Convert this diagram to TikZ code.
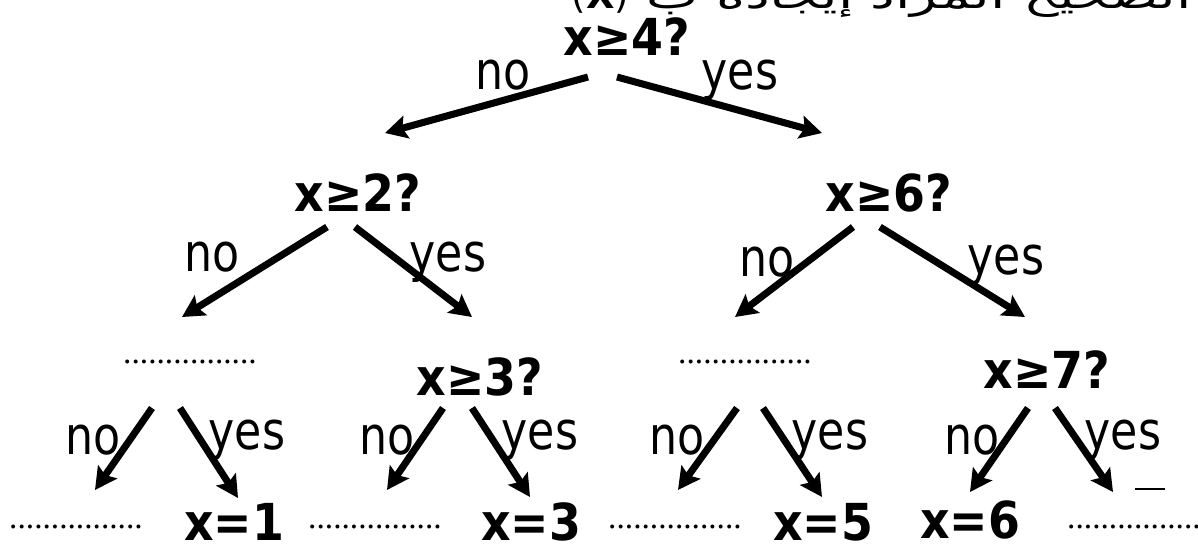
\documentclass[tikz,border=0pt]{standalone}
\usepackage{fontspec}
\setmainfont{DejaVu Sans}
\newfontfamily\askfont[FakeStretch=0.9]{DejaVu Sans}
\newfontfamily\ansfont[FakeStretch=0.84]{DejaVu Sans}
\newfontfamily\dotfont{Liberation Serif}
\newfontfamily\arabicfont[Script=Arabic, FakeStretch=1.5]{DejaVu Sans}
\TeXXeTstate=1
\usetikzlibrary{arrows.meta}
\tikzset{ask/.style = {font={\askfont\bfseries\fontsize{29}{29}\selectfont}, inner sep=0pt},
         ans/.style = {font={\ansfont\fontsize{30}{30}\selectfont}, inner sep=0pt},
         blank/.style = {font={\dotfont\fontsize{19}{19}\selectfont}, inner sep=0pt},
         arr/.style = {line width=4pt,
                       -{Stealth[length=0.44cm, width=0.46cm, inset=0.08cm]}}}

\begin{document}
\begin{tikzpicture}[x=0.02cm, y=-0.02cm]
    \useasboundingbox (0, 0) rectangle (1198, 545);
    \node [anchor=base east] (title) at (1198, 8)
      {\arabicfont\fontsize{21}{21}\selectfont\beginR الصحيح المراد إيجاده ب \beginL{\rmfamily (\textbf{X})}\endL\endR};
    % questions
    \node [ask] (q4) at (627, 37) {x≥4?};
    \node [ask] (q2) at (358, 193) {x≥2?};
    \node [ask] (q6) at (889, 193) {x≥6?};
    \node [ask] (q3) at (480, 377) {x≥3?};
    \node [ask] (q7) at (1047, 370) {x≥7?};
    \node [blank] (b1) at (190, 362) {................};
    \node [blank] (b2) at (745, 362) {................};
    % leaves
    \node [blank] (l0) at (76, 527) {................};
    \node [ask] (l1) at (234, 522) {x=1};
    \node [blank] (l2) at (375, 527) {................};
    \node [ask] (l3) at (531, 522) {x=3};
    \node [blank] (l4) at (675, 527) {................};
    \node [ask] (l5) at (823, 522) {x=5};
    \node [ask] (l6) at (970, 520) {x=6};
    \node [blank] (l7) at (1134, 527) {................};
    % arrow ends
    \coordinate (q4no) at (588, 77);   \coordinate (q4yes) at (617, 77);
    \coordinate (q2no) at (327, 227);  \coordinate (q2yes) at (355, 227);
    \coordinate (q6no) at (853, 227);  \coordinate (q6yes) at (880, 227);
    \coordinate (b1no) at (152, 408);  \coordinate (b1yes) at (180, 408);
    \coordinate (q3no) at (443, 408);  \coordinate (q3yes) at (472, 408);
    \coordinate (b2no) at (737, 408);  \coordinate (b2yes) at (763, 408);
    \coordinate (q7no) at (1028, 408); \coordinate (q7yes) at (1055, 408);
    \coordinate (t2) at (385, 133);    \coordinate (t6) at (822, 133);
    \coordinate (tb1) at (182, 317);   \coordinate (t3) at (472, 317);
    \coordinate (tb2) at (735, 317);   \coordinate (t7) at (1025, 317);
    \coordinate (tl0) at (95, 490);    \coordinate (tl1) at (238, 498);
    \coordinate (tl2) at (387, 490);   \coordinate (tl3) at (530, 497);
    \coordinate (tl4) at (678, 490);   \coordinate (tl5) at (822, 497);
    \coordinate (tl6) at (970, 492);   \coordinate (tl7) at (1113, 492);
    \draw [arr] (q4no) -- (t2);   \draw [arr] (q4yes) -- (t6);
    \draw [arr] (q2no) -- (tb1);  \draw [arr] (q2yes) -- (t3);
    \draw [arr] (q6no) -- (tb2);  \draw [arr] (q6yes) -- (t7);
    \draw [arr] (b1no) -- (tl0);  \draw [arr] (b1yes) -- (tl1);
    \draw [arr] (q3no) -- (tl2);  \draw [arr] (q3yes) -- (tl3);
    \draw [arr] (b2no) -- (tl4);  \draw [arr] (b2yes) -- (tl5);
    \draw [arr] (q7no) -- (tl6);  \draw [arr] (q7yes) -- (tl7);
    % labels
    \node [ans] (n4) at (503, 75) {no};   \node [ans] (y4) at (740, 80) {yes};
    \node [ans] (n2) at (212, 257) {no};  \node [ans] (y2) at (448, 262) {yes};
    \node [ans] (n6) at (767, 262) {no};  \node [ans] (y6) at (1006, 265) {yes};
    \node [ans] (nb1) at (93, 440) {no};  \node [ans] (yb1) at (247, 440) {yes};
    \node [ans] (n3) at (387, 440) {no};  \node [ans] (y3) at (540, 440) {yes};
    \node [ans] (nb2) at (677, 440) {no}; \node [ans] (yb2) at (830, 440) {yes};
    \node [ans] (n7) at (972, 440) {no};  \node [ans] (y7) at (1123, 440) {yes};
    \coordinate (dashA) at (1135, 489); \coordinate (dashB) at (1165, 489);
    \draw [line width=1.2pt] (dashA) -- (dashB);
  \end{tikzpicture}
\end{document}
